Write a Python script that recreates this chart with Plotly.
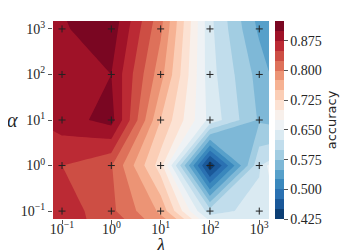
import numpy as np
import plotly.graph_objects as go

# grid exponents (log10) for lambda (x) and alpha (y)
lam_exp = [-1, 0, 1, 2, 3]
alpha_exp = [-1, 0, 1, 2, 3]
tick_labels = ["10<sup>−1</sup>", "10<sup>0</sup>", "10<sup>1</sup>", "10<sup>2</sup>", "10<sup>3</sup>"]

# accuracy, one list per alpha row (lambda = 0.1, 1, 10, 100, 1000)
acc_alpha_0_1 = [0.866, 0.831, 0.770, 0.610, 0.640]
acc_alpha_1 = [0.850, 0.827, 0.712, 0.430, 0.620]
acc_alpha_10 = [0.888, 0.910, 0.750, 0.642, 0.572]
acc_alpha_100 = [0.890, 0.900, 0.785, 0.635, 0.565]
acc_alpha_1000 = [0.897, 0.915, 0.805, 0.632, 0.545]

cbar_ticks = [0.425, 0.5, 0.575, 0.65, 0.725, 0.8, 0.875]

Z = np.array([acc_alpha_0_1, acc_alpha_1, acc_alpha_10, acc_alpha_100, acc_alpha_1000])
# extend the field linearly one step beyond the border so it fills the axes margins
Zp = np.pad(Z, 1, mode="reflect", reflect_type="odd")
xp = [lam_exp[0] - 1] + lam_exp + [lam_exp[-1] + 1]
yp = [alpha_exp[0] - 1] + alpha_exp + [alpha_exp[-1] + 1]

# matplotlib RdBu_r
rdbu_r = ['#053061', '#2166ac', '#4393c3', '#92c5de', '#d1e5f0', '#f7f7f7',
          '#fddbc7', '#f4a582', '#d6604d', '#b2182b', '#67001f']


def hex2rgb(h):
    return np.array([int(h[i:i + 2], 16) for i in (1, 3, 5)], dtype=float)


def mpl_col(t):
    pos = t * 10
    i = min(int(np.floor(pos)), 9)
    f = pos - i
    c = hex2rgb(rdbu_r[i]) * (1 - f) + hex2rgb(rdbu_r[i + 1]) * f
    return "rgb(%d,%d,%d)" % tuple(np.round(c).astype(int))


nb = 20
colorscale = [[j / (nb - 1), mpl_col((j + 0.5) / nb)] for j in range(nb)]

serif = "Liberation Serif"
txt = "#262626"

fig = go.Figure()
fig.add_trace(go.Contour(
    x=xp, y=yp, z=Zp,
    zmin=0.425, zmax=0.925,
    autocontour=False,
    contours=dict(start=0.45, end=0.9, size=0.025, coloring="fill", showlines=False),
    line=dict(width=0, smoothing=0),
    colorscale=colorscale,
    colorbar=dict(
        tickvals=cbar_ticks,
        ticktext=["%.3f" % v for v in cbar_ticks],
        ticks="outside", ticklen=4, tickwidth=1, tickcolor="#555",
        tickfont=dict(family=serif, size=14, color=txt),
        title=dict(text="accuracy", side="right",
                   font=dict(family="DejaVu Sans", size=13, color=txt)),
        thickness=9, len=1, lenmode="fraction", y=0.5, yanchor="middle",
        x=1.028, xanchor="left", xpad=0, ypad=0, outlinewidth=0,
    ),
    hoverinfo="skip",
))

gx, gy = np.meshgrid(lam_exp, alpha_exp)
fig.add_trace(go.Scatter(
    x=gx.ravel(), y=gy.ravel(), mode="markers",
    marker=dict(symbol="cross-thin", size=5, line=dict(width=1, color="#222")),
    showlegend=False, hoverinfo="skip",
))

axis_common = dict(
    tickvals=lam_exp, ticktext=tick_labels, showgrid=False, zeroline=False,
    showline=False, ticks="outside", ticklen=4, tickwidth=1, tickcolor="#555",
    tickfont=dict(family=serif, size=14, color=txt),
)
fig.update_layout(
    width=350, height=250,
    margin=dict(l=45, r=89, t=11, b=39),
    paper_bgcolor="white", plot_bgcolor="white",
    xaxis=dict(range=[-1.183, 3.197], ticklabelstandoff=-7, **axis_common),
    yaxis=dict(range=[-1.174, 3.174], **axis_common),
    showlegend=False,
    annotations=[
        dict(text="<i>λ</i>", x=1, xref="x", y=-0.19, yref="paper", showarrow=False,
             xanchor="center", yanchor="bottom", font=dict(family=serif, size=19, color=txt)),
        dict(text="<i>α</i>", x=-0.22, xref="paper", y=1, yref="y", showarrow=False,
             xanchor="left", yanchor="middle", font=dict(family=serif, size=20, color=txt)),
    ],
)

fig.write_html("out.html")
